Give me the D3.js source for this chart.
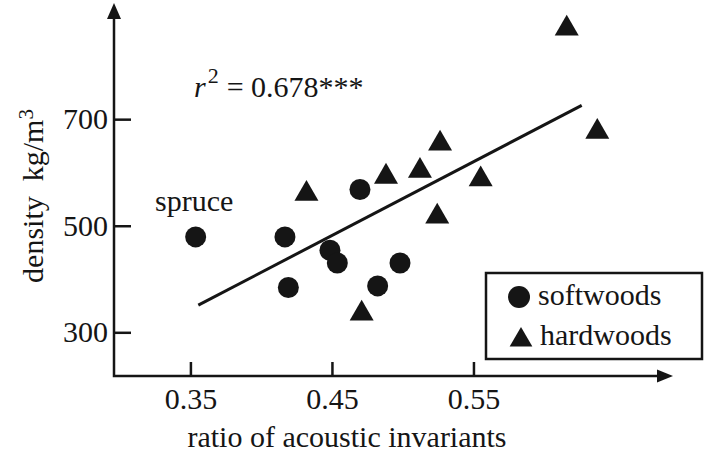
<!DOCTYPE html>
<html><head><meta charset="utf-8">
<script src="https://cdn.jsdelivr.net/npm/d3@7"></script>
<style>
html,body{margin:0;padding:0;background:#fff;}
svg{display:block;}
text{font-family:"Liberation Serif","Times New Roman",serif;fill:#151515;}
</style>
</head><body>
<svg id="chart" width="705" height="456"></svg>
<script>
// ---- data ----
const softX = [0.3537, 0.4168, 0.4192, 0.4486, 0.4538, 0.4698, 0.4823, 0.4981];
const softY = [479, 479, 384, 454, 430, 568, 387, 430];
const hardX = [0.432, 0.471, 0.4882, 0.5122, 0.5264, 0.5244, 0.5551, 0.6159, 0.6375];
const hardY = [560, 335, 592, 603, 654, 517, 587, 870, 676];
const fitX = [0.3556, 0.6265];
const fitY = [351, 726];
const xTicks = [0.35, 0.45, 0.55];
const xTickLabels = ["0.35", "0.45", "0.55"];
const yTicks = [300, 500, 700];
const yTickLabels = ["300", "500", "700"];
const seriesNames = ["softwoods", "hardwoods"];
const xTitle = "ratio of acoustic invariants";
const statText = "= 0.678***";
const spruceLabel = "spruce";

// ---- layout ----
const svg = d3.select("#chart");
const ink = "#151515";
const x = d3.scaleLinear().domain([0.296, 0.691]).range([114, 673]);
const y = d3.scaleLinear().domain([218, 918]).range([376, 3]);
const FS = 30;

// axes ticks
const xAxis = d3.axisBottom(x).tickValues(xTicks)
  .tickFormat((d, i) => xTickLabels[i]).tickSize(-14).tickPadding(12);
const gx = svg.append("g").attr("transform", `translate(0,${y.range()[0]})`).call(xAxis);
gx.select(".domain").remove();
gx.selectAll(".tick line").attr("stroke", ink).attr("stroke-width", 2.5);
gx.selectAll(".tick text").attr("font-size", FS).attr("fill", ink)
  .style("font-family", '"Liberation Serif", serif');

const yAxis = d3.axisLeft(y).tickValues(yTicks)
  .tickFormat((d, i) => yTickLabels[i]).tickSize(-17).tickPadding(6);
const gy = svg.append("g").attr("transform", `translate(${x.range()[0]},0)`).call(yAxis);
gy.select(".domain").remove();
gy.selectAll(".tick line").attr("stroke", ink).attr("stroke-width", 2.5);
gy.selectAll(".tick text").attr("font-size", FS).attr("fill", ink)
  .style("font-family", '"Liberation Serif", serif');

// axis lines with arrows
const x0 = x.range()[0], x1 = x.range()[1], y0 = y.range()[0], y1 = y.range()[1];
svg.append("path")
  .attr("d", `M${x0},${y1 + 10}V${y0}H${x1 - 10}`)
  .attr("fill", "none").attr("stroke", ink).attr("stroke-width", 2.5);
svg.append("path")
  .attr("d", `M${x0},${y1}L${x0 - 7},${y1 + 16}L${x0 + 7},${y1 + 16}Z`).attr("fill", ink);
svg.append("path")
  .attr("d", `M${x1},${y0}L${x1 - 16},${y0 - 6.5}L${x1 - 16},${y0 + 6.5}Z`).attr("fill", ink);

// regression line
svg.append("path")
  .datum(fitX.map((v, i) => [v, fitY[i]]))
  .attr("d", d3.line().x(d => x(d[0])).y(d => y(d[1])))
  .attr("fill", "none").attr("stroke", ink).attr("stroke-width", 3);

// points
svg.append("g").selectAll("circle")
  .data(softX.map((v, i) => [v, softY[i]]))
  .join("circle")
  .attr("cx", d => x(d[0])).attr("cy", d => y(d[1])).attr("r", 10.5).attr("fill", ink);

const tri = d3.symbol().type(d3.symbolTriangle).size(249);
svg.append("g").selectAll("path")
  .data(hardX.map((v, i) => [v, hardY[i]]))
  .join("path")
  .attr("d", tri)
  .attr("transform", d => `translate(${x(d[0])},${y(d[1])})`)
  .attr("fill", ink);

// annotations
svg.append("text").attr("x", 155).attr("y", 211).attr("font-size", FS).text(spruceLabel);

const stat = svg.append("text").attr("x", 194).attr("y", 97).attr("font-size", FS);
stat.append("tspan").attr("font-style", "italic").text("r");
stat.append("tspan").attr("font-size", 22).attr("dy", -14).attr("dx", 2).text("2");
stat.append("tspan").attr("dy", 14).attr("dx", 8).text(statText);

// axis titles
svg.append("text").attr("x", 347).attr("y", 447).attr("font-size", FS)
  .attr("text-anchor", "middle").text(xTitle);

const yt = svg.append("text")
  .attr("transform", "translate(43,196) rotate(-90)")
  .attr("text-anchor", "middle").attr("font-size", FS);
yt.append("tspan").text("density\u00a0\u00a0kg/m");
yt.append("tspan").attr("font-size", 21).attr("dy", -10).text("3");

// legend
const lg = svg.append("g");
lg.append("rect").attr("x", 486).attr("y", 273).attr("width", 216).attr("height", 86)
  .attr("fill", "#fff").attr("stroke", ink).attr("stroke-width", 2.5);
lg.append("circle").attr("cx", 519).attr("cy", 297).attr("r", 11).attr("fill", ink);
lg.append("path").attr("d", d3.symbol().type(d3.symbolTriangle).size(223))
  .attr("transform", "translate(521,340)").attr("fill", ink);
lg.append("text").attr("x", 538).attr("y", 305).attr("font-size", FS).text(seriesNames[0]);
lg.append("text").attr("x", 540).attr("y", 345).attr("font-size", FS).text(seriesNames[1]);
</script>
</body></html>
